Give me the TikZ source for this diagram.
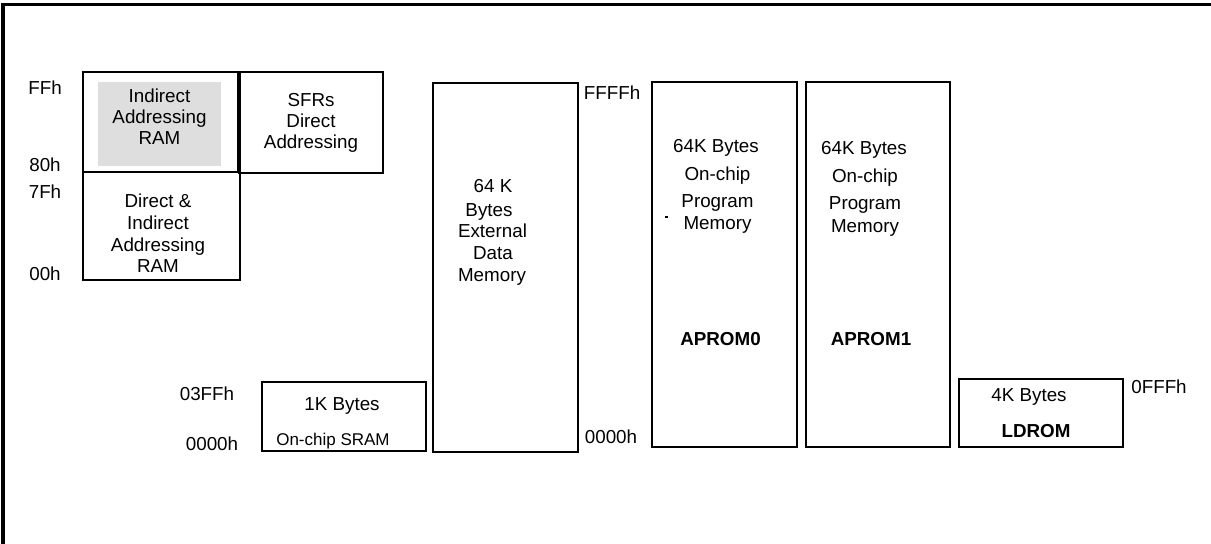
\documentclass[tikz,border=0pt]{standalone}
\usepackage{fontspec}
\setmainfont{Liberation Sans}
\begin{document}
\begin{tikzpicture}[x=1bp,y=-1bp,
  box/.style={draw=black,line width=1.6bp,inner sep=0pt,outer sep=0pt},
  shade/.style={fill=black!13,draw=none,inner sep=0pt,outer sep=0pt},
  txt/.style={anchor=base,inner sep=0pt,font=\fontsize{18.8bp}{22bp}\selectfont},
  smalltxt/.style={anchor=base,inner sep=0pt,font=\fontsize{17bp}{20bp}\selectfont},
  boldtxt/.style={anchor=base,inner sep=0pt,font=\fontsize{18.8bp}{22bp}\selectfont\bfseries},
  frame/.style={line width=3bp,line cap=rect}]
\useasboundingbox (0,0) rectangle (1211,544);
% outer frame (only top and left edges visible)
\coordinate (fbl) at (3,546);
\coordinate (ftl) at (3,4.5);
\coordinate (ftr) at (1213,4.5);
\draw[frame] (fbl) -- (ftl) -- (ftr);

% gray area
\node[shade,minimum width=123bp,minimum height=84bp] (gray) at (159.5,124) {};
% boxes
\node[box,minimum width=155bp,minimum height=100bp] (iram) at (160.5,122) {};
\node[box,minimum width=144bp,minimum height=101bp] (sfr) at (311,122.5) {};
\draw[line width=3bp] (sfr.north west) -- (sfr.south west);
\node[box,minimum width=157bp,minimum height=108bp] (dram) at (161.5,226) {};
\node[box,minimum width=145bp,minimum height=369bp] (ext) at (505.5,267.5) {};
\node[box,minimum width=145bp,minimum height=365bp] (ap0) at (724.5,264.5) {};
\node[box,minimum width=144bp,minimum height=365bp] (ap1) at (878,264.5) {};
\node[box,minimum width=164bp,minimum height=68bp] (ld) at (1041,413) {};
\node[box,minimum width=164bp,minimum height=69bp] (sram) at (344,416.5) {};

% address labels
\node[txt] (lFF) at (45,95) {FFh};
\node[txt] (l80) at (45,172) {80h};
\node[txt] (l7F) at (45,199) {7Fh};
\node[txt] (l00) at (45,281) {00h};
\node[txt] (lFFFF) at (612,100) {FFFFh};
\node[txt] (l0000r) at (611,443) {0000h};
\node[txt] (l03FF) at (207,400) {03FFh};
\node[txt] (l0000l) at (212,450) {0000h};
\node[txt] (l0FFF) at (1159,393) {0FFFh};

% Indirect addressing RAM
\node[txt] (t1a) at (159.5,103) {Indirect};
\node[txt] (t1b) at (159.5,124) {Addressing};
\node[txt] (t1c) at (159.5,145) {RAM};
% SFRs
\node[txt] (t2a) at (311,107) {SFRs};
\node[txt] (t2b) at (311,128) {Direct};
\node[txt] (t2c) at (311,149) {Addressing};
% Direct & Indirect
\node[txt] (t3a) at (158,208) {Direct \&};
\node[txt] (t3b) at (158,230) {Indirect};
\node[txt] (t3c) at (158,252) {Addressing};
\node[txt] (t3d) at (158,273) {RAM};
% External data
\node[txt] (t4a) at (493,193) {64 K};
\node[txt] (t4b) at (489,217) {Bytes};
\node[txt] (t4c) at (492.5,238) {External};
\node[txt] (t4d) at (493,260) {Data};
\node[txt] (t4e) at (492,282) {Memory};
% APROM0
\node[txt] (t5a) at (716,153) {64K Bytes};
\node[txt] (t5b) at (717.5,181) {On-chip};
\node[txt] (t5c) at (717.5,208) {Program};
\node[txt] (t5d) at (717.5,230) {Memory};
\node[boldtxt] (t5e) at (720.5,346) {APROM0};
\fill (665,216) rectangle (667.5,218);
% APROM1
\node[txt] (t6a) at (864,155) {64K Bytes};
\node[txt] (t6b) at (865,183) {On-chip};
\node[txt] (t6c) at (865,210) {Program};
\node[txt] (t6d) at (865,233) {Memory};
\node[boldtxt] (t6e) at (871,346) {APROM1};
% LDROM
\node[txt] (t7a) at (1029,401) {4K Bytes};
\node[boldtxt] (t7b) at (1036,437) {LDROM};
% SRAM
\node[txt] (t8a) at (342,410) {1K Bytes};
\node[smalltxt] (t8b) at (333,445) {On-chip SRAM};
\end{tikzpicture}
\end{document}
